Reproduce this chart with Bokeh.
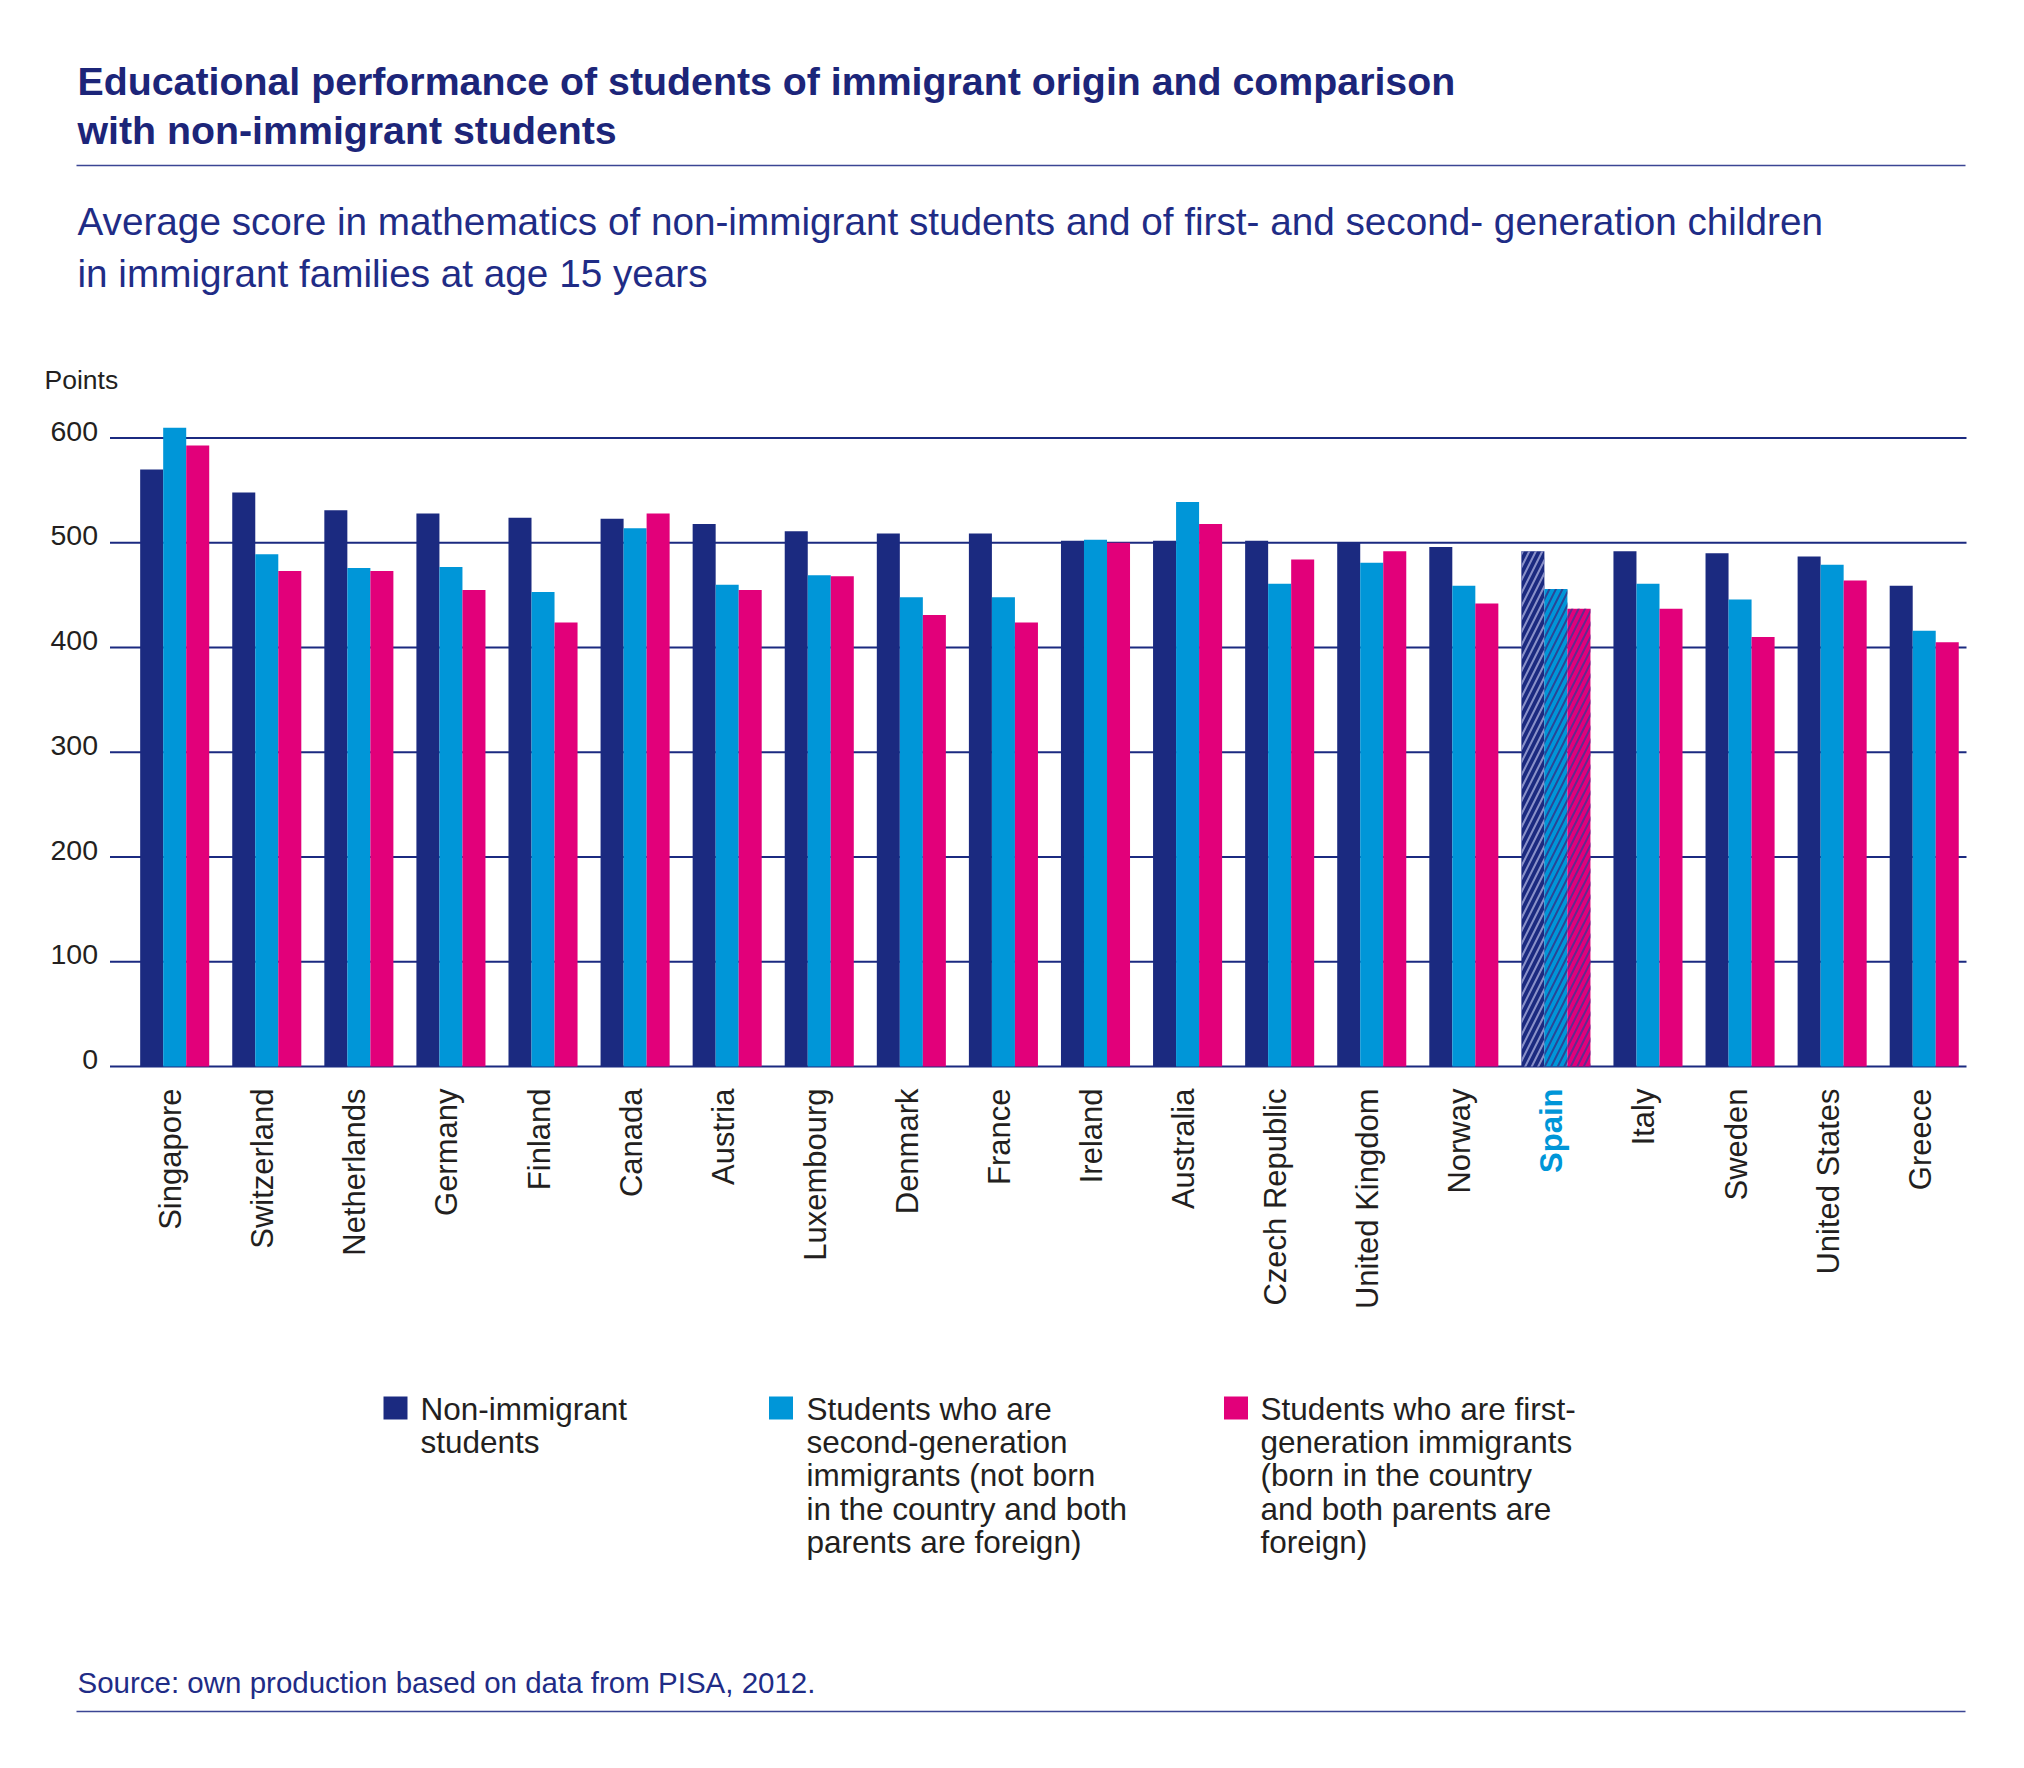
import math
from bokeh.plotting import figure
from bokeh.models import Range1d, ColumnDataSource
from bokeh.core.properties import value, field
from bokeh.transform import dodge
from bokeh.embed import file_html
from bokeh.resources import INLINE

# ---------------- data ----------------
countries = ["Singapore", "Switzerland", "Netherlands", "Germany", "Finland", "Canada",
             "Austria", "Luxembourg", "Denmark", "France", "Ireland", "Australia",
             "Czech Republic", "United Kingdom", "Norway", "Spain", "Italy", "Sweden",
             "United States", "Greece"]
non_immigrant = [570, 548, 531, 528, 524, 523, 518, 511, 509, 509, 502, 502, 502, 500,
                 496, 492, 492, 490, 487, 459]
second_generation = [610, 489, 476, 477, 453, 514, 460, 469, 448, 448, 503, 539, 461, 481,
                     459, 456, 461, 446, 479, 416]
first_generation = [593, 473, 473, 455, 424, 528, 455, 468, 431, 424, 500, 518, 484, 492,
                    442, 437, 437, 410, 464, 405]
highlight_country = "Spain"
y_ticks = [0, 100, 200, 300, 400, 500, 600]
y_tick_labels = ["0", "100", "200", "300", "400", "500", "600"]
y_label = "Points"
title_lines = ["Educational performance of students of immigrant origin and comparison",
               "with non-immigrant students"]
subtitle_lines = ["Average score in mathematics of non-immigrant students and of first- and second- generation children",
                  "in immigrant families at age 15 years"]
legend_lines = [["Non-immigrant", "students"],
                ["Students who are", "second-generation", "immigrants (not born",
                 "in the country and both", "parents are foreign)"],
                ["Students who are first-", "generation immigrants", "(born in the country",
                 "and both parents are", "foreign)"]]
source_text = "Source: own production based on data from PISA, 2012."

# ---------------- style / geometry ----------------
W, H = 2008, 1744
NAVY = "#1b2a80"
CYAN = "#0096d8"
PINK = "#e2007a"
TEXT = "#231f20"
RULE = "#3b4594"
FONT = "Liberation Sans"

GROUP0_PX = 174.2       # canvas x of first group centre
GROUP_STEP = 92.08      # px per category
ZERO_PX = 1066.0        # canvas y of value 0
PX_PER_POINT = 628.4 / 600.0

x_start = -GROUP0_PX / GROUP_STEP
x_end = (W - GROUP0_PX) / GROUP_STEP
y_end = ZERO_PX / PX_PER_POINT
y_start = -(H - ZERO_PX) / PX_PER_POINT

p = figure(width=W, height=H, x_range=Range1d(x_start, x_end), y_range=Range1d(y_start, y_end),
           output_backend="svg", toolbar_location=None, x_axis_location=None,
           y_axis_location=None, min_border=0, outline_line_color=None)
p.extra_x_ranges = {"px": Range1d(0, W)}
p.extra_y_ranges = {"px": Range1d(H, 0)}
p.grid.visible = False
p.background_fill_color = "white"
p.border_fill_color = "white"


def ptext(x, y, txt, size, color=TEXT, style="normal", align="left", baseline="middle"):
    p.text(x=[x], y=[y], text=[txt], x_range_name="px", y_range_name="px",
           text_font=value(FONT), text_font_size=f"{size}px", text_color=color,
           text_font_style=style, text_align=align, text_baseline=baseline)


# header
for i, line in enumerate(title_lines):
    ptext(77, 80 + i * 49.5, line, 39.3, color="#1c2579", style="bold")
p.segment(x0=[76], x1=[1965], y0=[165], y1=[165], x_range_name="px", y_range_name="px",
          line_color=RULE, line_width=1.6)
for i, line in enumerate(subtitle_lines):
    ptext(77, 221 + i * 51.5, line, 38.7, color="#1f2c86")

ptext(44, 379, y_label, 26.5)

# grid lines + tick labels
p.segment(x0=109.5, x1=1966, y0=y_ticks, y1=y_ticks, x_range_name="px",
          line_color=NAVY, line_width=2)
p.text(x=97.5, y=y_ticks, text=y_tick_labels, x_range_name="px", text_align="right",
       text_baseline="middle", y_offset=-7, text_font=value(FONT),
       text_font_size="28.5px", text_color=TEXT)

# bars
idx = list(range(len(countries)))
src = ColumnDataSource(dict(
    idx=idx,
    country=countries,
    non=non_immigrant,
    sec=second_generation,
    first=first_generation,
    hatch=["/" if c == highlight_country else " " for c in countries],
    lcolor=[CYAN if c == highlight_country else TEXT for c in countries],
    lstyle=["bold" if c == highlight_country else "normal" for c in countries],
))
series = [("non", -0.25, NAVY, "#8a91c9"),
          ("sec", 0.0, CYAN, "#2a4596"),
          ("first", 0.25, PINK, "#622a8e")]
for fld, off, color, hcolor in series:
    p.vbar(x=dodge("idx", off, range=p.x_range), top=fld, bottom=0, width=0.25, source=src,
           fill_color=color, line_color=None, hatch_pattern=field("hatch"),
           hatch_color=hcolor, hatch_scale=13, hatch_weight=2)

# category labels
p.text(x="idx", y=1088, text="country", source=src, y_range_name="px", angle=math.pi / 2,
       text_align="right", text_baseline="middle", x_offset=-4, text_font=value(FONT),
       text_font_size="31px", text_color="lcolor", text_font_style="lstyle")

# legend
leg_colors = [NAVY, CYAN, PINK]
leg_box_x = [395, 780.5, 1235.5]
leg_text_x = [420, 806, 1260]
p.rect(x=leg_box_x, y=[1407.5] * 3, width=24, height=23, fill_color=leg_colors,
       line_color=None, x_range_name="px", y_range_name="px")
for k, lines in enumerate(legend_lines):
    for j, line in enumerate(lines):
        ptext(leg_text_x[k], 1408 + j * 33.4, line, 31.5)

# footer
ptext(77, 1682, source_text, 29.5, color="#1f2c86")
p.segment(x0=[76], x1=[1965], y0=[1711], y1=[1711], x_range_name="px", y_range_name="px",
          line_color=RULE, line_width=1.6)

open("out.html", "w").write(file_html(p, INLINE))
